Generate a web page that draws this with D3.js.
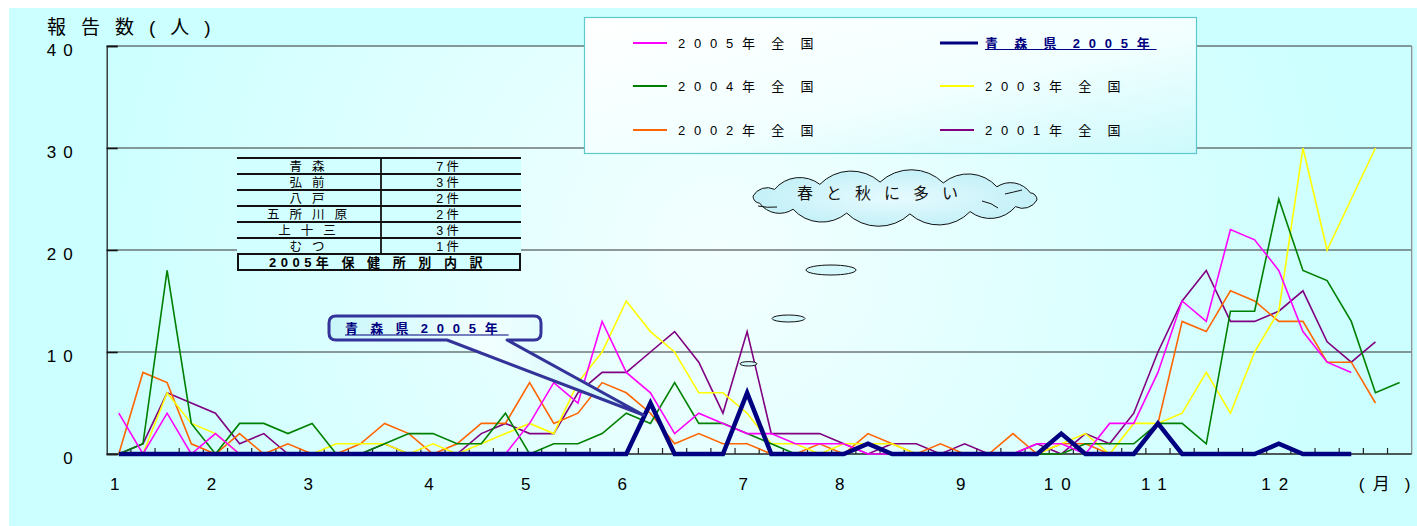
<!DOCTYPE html>
<html>
<head>
<meta charset="utf-8">
<script src="https://cdn.jsdelivr.net/npm/d3@7"></script>
<style>
  html, body { margin: 0; padding: 0; background: #fff; }
  svg { display: block; }
  text { font-family: 'Liberation Sans', 'Noto Sans CJK JP', sans-serif; }
</style>
</head>
<body>
<svg id="chart" width="1417" height="526"></svg>
<script>
// Weekly report counts (weeks 1..54 of the year)
const weeks = d3.range(54);

// Month labels and the week each one sits under
const monthLabels = ["1", "2", "3", "4", "5", "6", "7", "8", "9", "10", "11", "12"];
const monthWeeks  = [0, 4, 8, 13, 17, 21, 26, 30, 35, 39, 43, 48];
const yTicks = [0, 10, 20, 30, 40];

// Aomori prefecture, 2005
const aomori2005 = [0,0,0,0,0,0,0,0,0,0, 0,0,0,0,0,0,0,0,0,0, 0,0,5,0,0,0,6,0,0,0, 0,1,0,0,0,0,0,0,0,2, 0,0,0,3,0,0,0,0,1,0, 0,0];

// National totals
const national2005 = [4,0,4,0,2,0,0,0,0,0, 0,0,0,0,0,0,0,3,7,5, 13,8,6,2,4,3,2,2,1,1, 1,0,0,0,0,0,0,0,1,1, 0,3,3,8,15,13,22,21,18,12, 9,8];
const national2004 = [0,1,18,3,0,3,3,2,3,0, 0,1,2,2,1,1,4,0,1,1, 2,4,3,7,3,3,2,1,0,0, 0,1,0,0,0,0,0,0,0,0, 1,1,1,3,3,1,14,14,25,18, 17,13,6,7];
const national2003 = [0,0,6,3,2,0,0,0,0,1, 1,1,0,1,0,1,2,3,2,7, 10,15,12,10,6,6,4,1,1,0, 1,1,1,0,0,0,0,0,0,1, 2,0,3,3,4,8,4,10,14,30, 20,25,30];
const national2002 = [0,8,7,1,0,2,0,1,0,0, 1,3,2,0,1,3,3,7,3,4, 7,6,4,1,2,1,1,0,0,1, 0,2,1,0,1,0,0,2,0,1, 1,0,0,3,13,12,16,15,13,13, 9,9,5];
const national2001 = [0,1,6,5,4,1,2,0,0,0, 0,1,0,0,0,2,3,2,2,6, 8,8,10,12,9,4,12,2,2,2, 1,0,1,1,0,1,0,0,1,0, 2,1,4,10,15,18,13,13,14,16, 11,9,11];

const seriesNames  = ["2001年 全 国", "2002年 全 国", "2003年 全 国", "2004年 全 国", "2005年 全 国"];
const seriesColors = ["#800080", "#ff6600", "#ffff00", "#008000", "#ff00ff"];
const seriesValues = [national2001, national2002, national2003, national2004, national2005];
const aomoriName = "青 森 県 2005年";
const aomoriColor = "#000080";

// Cases by health centre, 2005
const officeNames  = ["青森", "弘前", "八戸", "五所川原", "上十三", "むつ"];
const officeCounts = [7, 3, 2, 2, 3, 1];

const svg = d3.select("#chart");
const defs = svg.append("defs");

const plotGrad = defs.append("radialGradient").attr("id", "plotBg")
  .attr("gradientUnits", "userSpaceOnUse").attr("cx", 720).attr("cy", 250).attr("r", 640);
plotGrad.append("stop").attr("offset", 0).attr("stop-color", "#f3ffff");
plotGrad.append("stop").attr("offset", 1).attr("stop-color", "#ccffff");

const legGrad = defs.append("linearGradient").attr("id", "legBg")
  .attr("x1", 0).attr("y1", 0).attr("x2", 1).attr("y2", 1);
legGrad.append("stop").attr("offset", 0).attr("stop-color", "#ffffff");
legGrad.append("stop").attr("offset", 0.55).attr("stop-color", "#f2ffff");
legGrad.append("stop").attr("offset", 1).attr("stop-color", "#cdfafc");

const calloutGrad = defs.append("linearGradient").attr("id", "calloutBg")
  .attr("x1", 0).attr("y1", 0).attr("x2", 1).attr("y2", 0);
calloutGrad.append("stop").attr("offset", 0).attr("stop-color", "#c8f6fa");
calloutGrad.append("stop").attr("offset", 0.5).attr("stop-color", "#f2ffff");
calloutGrad.append("stop").attr("offset", 1).attr("stop-color", "#c8f6fa");

const cloudGrad = defs.append("radialGradient").attr("id", "cloudBg")
  .attr("cx", 0.5).attr("cy", 0.5).attr("r", 0.6);
cloudGrad.append("stop").attr("offset", 0).attr("stop-color", "#e6fbff");
cloudGrad.append("stop").attr("offset", 1).attr("stop-color", "#bdeef6");

// page background
svg.append("rect").attr("x", 9).attr("y", 8).attr("width", 1408).attr("height", 518).attr("fill", "#ccffff");

// scales
const x = d3.scaleBand().domain(weeks).range([106.7, 1411.7]);
const cx = i => x(i) + x.bandwidth() / 2;
const y = d3.scaleLinear().domain([0, 40]).range([454, 46]);
const [xL, xR] = x.range();

svg.append("rect").attr("x", xL).attr("y", y(40)).attr("width", xR - xL).attr("height", y(0) - y(40))
  .attr("fill", "url(#plotBg)");

// horizontal grid
svg.append("g").selectAll("line").data(yTicks.filter(d => d > 0)).join("line")
  .attr("x1", xL).attr("x2", xR).attr("y1", d => y(d)).attr("y2", d => y(d))
  .attr("stroke", "#333").attr("stroke-width", 1);
svg.append("line").attr("x1", xR).attr("x2", xR).attr("y1", y(40)).attr("y2", y(0))
  .attr("stroke", "#888").attr("stroke-width", 1.2);

// y axis
const yAxis = svg.append("g").attr("transform", `translate(${xL},0)`)
  .call(d3.axisLeft(y).tickValues(yTicks).tickSize(-11).tickPadding(27));
yAxis.select(".domain").attr("stroke", "#222").attr("stroke-width", 1.3);
yAxis.selectAll(".tick line").attr("stroke", "#111").attr("stroke-width", 1.6);
yAxis.selectAll(".tick text").attr("font-size", 17).attr("letter-spacing", 7)
  .attr("fill", "#000").attr("dy", 9).style("font-family", "'Liberation Sans', sans-serif");

svg.append("text").attr("x", 47).attr("y", 34).attr("font-size", 19).attr("letter-spacing", 15)
  .attr("fill", "#000").text("報告数(人)");

// x axis: baseline, week boundary ticks, month labels
svg.append("line").attr("x1", xL).attr("x2", xR).attr("y1", y(0)).attr("y2", y(0))
  .attr("stroke", "#222").attr("stroke-width", 1.3);
svg.append("g").selectAll("line").data(weeks.slice(1)).join("line")
  .attr("x1", d => x(d)).attr("x2", d => x(d)).attr("y1", y(0)).attr("y2", y(0) - 6)
  .attr("stroke", "#222").attr("stroke-width", 1.2);

const monthOf = new Map(monthWeeks.map((w, k) => [w, monthLabels[k]]));
const xAxis = svg.append("g").attr("transform", `translate(0,${y(0)})`)
  .call(d3.axisBottom(x).tickValues(monthWeeks).tickFormat(d => monthOf.get(d)).tickSize(0).tickPadding(24));
xAxis.select(".domain").remove();
xAxis.selectAll(".tick text").attr("font-size", 17).attr("letter-spacing", 8).attr("fill", "#000")
  .style("font-family", "'Liberation Sans', sans-serif");

// unit label "(月)" after the last month, pieces spaced out by hand
const unit = svg.append("text").attr("y", 490).attr("font-size", 17).attr("fill", "#000");
const ux = x(52) - 4.5;
unit.append("tspan").attr("x", ux).text("(");
unit.append("tspan").attr("x", ux + 14).text("月");
unit.append("tspan").attr("x", ux + 46).text(")");

// national series
const line = d3.line().x((d, i) => cx(i)).y(d => y(d));
const lines = svg.append("g").attr("fill", "none");
seriesValues.forEach((vals, k) => {
  lines.append("path").attr("d", line(vals)).attr("stroke", seriesColors[k])
    .attr("stroke-width", 1.6).attr("stroke-linejoin", "miter");
});
// Aomori series on top
lines.append("path").attr("d", line(aomori2005)).attr("stroke", aomoriColor)
  .attr("stroke-width", 4.5).attr("stroke-linejoin", "miter");

// legend
const leg = svg.append("g");
leg.append("rect").attr("x", 584.5).attr("y", 17.5).attr("width", 612).attr("height", 136)
  .attr("fill", "url(#legBg)").attr("stroke", "#5ec8cc").attr("stroke-width", 1.2);
const legendItems = [
  { name: seriesNames[4], color: seriesColors[4], col: 0, row: 0 },
  { name: aomoriName, color: aomoriColor, col: 1, row: 0, bold: true },
  { name: seriesNames[3], color: seriesColors[3], col: 0, row: 1 },
  { name: seriesNames[2], color: seriesColors[2], col: 1, row: 1 },
  { name: seriesNames[1], color: seriesColors[1], col: 0, row: 2 },
  { name: seriesNames[0], color: seriesColors[0], col: 1, row: 2 }
];
legendItems.forEach(it => {
  const lx = it.col === 0 ? 633 : 940;
  const ly = [43, 86, 130][it.row];
  leg.append("line").attr("x1", lx).attr("x2", lx + (it.bold ? 38 : 34)).attr("y1", ly).attr("y2", ly)
    .attr("stroke", it.color).attr("stroke-width", it.bold ? 3.2 : 1.8);
  const t = leg.append("text").attr("x", lx + 45).attr("y", ly + 5)
    .attr("font-size", 13).attr("letter-spacing", 8.8).style("word-spacing", "-5px")
    .attr("fill", it.bold ? aomoriColor : "#000").attr("font-weight", it.bold ? "bold" : "normal")
    .text(it.name);
  if (it.bold) {
    const bb = t.node().getBBox();
    leg.append("line").attr("x1", bb.x).attr("x2", bb.x + bb.width - 2).attr("y1", ly + 6.5).attr("y2", ly + 6.5)
      .attr("stroke", aomoriColor).attr("stroke-width", 1.2);
  }
});

// health-centre table
const tb = svg.append("g");
const tX0 = 237, tX1 = 521, tMid = 381, tY0 = 158, rowH = 16;
tb.append("rect").attr("x", tX0).attr("y", tY0).attr("width", tX1 - tX0).attr("height", rowH * 7)
  .attr("fill", "#d2ffff");
officeNames.forEach((nm, i) => {
  const ry = tY0 + rowH * i;
  tb.append("text").attr("x", 312).attr("y", ry + 13).attr("text-anchor", "middle")
    .attr("font-size", 12.5).attr("letter-spacing", 10).attr("fill", "#000").text(nm);
  tb.append("text").attr("x", 449).attr("y", ry + 13).attr("text-anchor", "middle")
    .attr("font-size", 12.5).attr("letter-spacing", 3).attr("fill", "#000").text(officeCounts[i] + "件");
});
tb.append("g").selectAll("line").data(d3.range(7)).join("line")
  .attr("x1", tX0).attr("x2", tX1).attr("y1", d => tY0 + rowH * d).attr("y2", d => tY0 + rowH * d)
  .attr("stroke", "#111").attr("stroke-width", 1.8);
tb.append("line").attr("x1", tMid).attr("x2", tMid).attr("y1", tY0).attr("y2", tY0 + rowH * 6)
  .attr("stroke", "#111").attr("stroke-width", 1.8);
tb.append("rect").attr("x", tX0 + 1).attr("y", tY0 + rowH * 6).attr("width", tX1 - tX0 - 2).attr("height", rowH)
  .attr("fill", "none").attr("stroke", "#111").attr("stroke-width", 2);
tb.append("text").attr("x", 378).attr("y", tY0 + rowH * 6 + 12.5).attr("text-anchor", "middle")
  .attr("font-size", 13).attr("font-weight", "bold").attr("letter-spacing", 4.5).attr("fill", "#000")
  .text("2005年 保 健 所 別 内 訳");

// cloud note
function cloudPath(ccx, ccy, rx, ry, n) {
  const pts = d3.range(n).map(k => {
    const a = -Math.PI + (2 * Math.PI * k) / n + 0.12;
    return [ccx + rx * Math.cos(a), ccy + ry * Math.sin(a)];
  });
  let d = `M${pts[0][0]},${pts[0][1]}`;
  for (let k = 1; k <= n; k++) {
    const p = pts[k % n], q = pts[k - 1];
    const c = Math.hypot(p[0] - q[0], p[1] - q[1]);
    const r = c * 0.72;
    d += `A${r},${r} 0 0 1 ${p[0]},${p[1]}`;
  }
  return d + "Z";
}
const cl = svg.append("g");
cl.append("path").attr("d", cloudPath(895, 198, 143, 16, 14))
  .attr("fill", "url(#cloudBg)").attr("stroke", "#111").attr("stroke-width", 1);
cl.append("path").attr("d", "M758,206 Q767,208 777,207").attr("fill", "none").attr("stroke", "#111");
cl.append("path").attr("d", "M1005,194 Q1014,192 1022,190").attr("fill", "none").attr("stroke", "#111");
cl.append("path").attr("d", "M982,201 Q992,203 998,208").attr("fill", "none").attr("stroke", "#111");
cl.append("text").attr("x", 797).attr("y", 199).attr("font-size", 16).attr("letter-spacing", 13)
  .attr("fill", "#111").text("春と秋に多い");
[[831, 270, 25, 5], [788.5, 318.5, 16.5, 3.5], [748.5, 363.8, 8.5, 2.2]].forEach(e => {
  cl.append("ellipse").attr("cx", e[0]).attr("cy", e[1]).attr("rx", e[2]).attr("ry", e[3])
    .attr("fill", "#d4f8fc").attr("stroke", "#111").attr("stroke-width", 1);
});

// callout pointing at the Aomori peak
const cb = { x0: 329, y0: 316, x1: 541, y1: 340, r: 7, b1: 447, b2: 507 };
const tipX = cx(22) - 7, tipY = y(aomori2005[22]) + 12;
const cpath = `M${cb.x0 + cb.r},${cb.y0} H${cb.x1 - cb.r} Q${cb.x1},${cb.y0} ${cb.x1},${cb.y0 + cb.r}` +
  ` V${cb.y1 - cb.r} Q${cb.x1},${cb.y1} ${cb.x1 - cb.r},${cb.y1} H${cb.b2} L${tipX},${tipY} L${cb.b1},${cb.y1}` +
  ` H${cb.x0 + cb.r} Q${cb.x0},${cb.y1} ${cb.x0},${cb.y1 - cb.r} V${cb.y0 + cb.r} Q${cb.x0},${cb.y0} ${cb.x0 + cb.r},${cb.y0} Z`;
svg.append("path").attr("d", cpath).attr("fill", "url(#calloutBg)")
  .attr("stroke", "#33339a").attr("stroke-width", 3).attr("stroke-linejoin", "round");
const ct = svg.append("text").attr("x", 345).attr("y", 333).attr("font-size", 13).attr("font-weight", "bold")
  .attr("letter-spacing", 8.8).style("word-spacing", "-9px").attr("fill", aomoriColor).text(aomoriName);
const cbb = ct.node().getBBox();
svg.append("line").attr("x1", cbb.x).attr("x2", cbb.x + cbb.width + 2).attr("y1", 335).attr("y2", 335)
  .attr("stroke", aomoriColor).attr("stroke-width", 1.2);
</script>
</body>
</html>
